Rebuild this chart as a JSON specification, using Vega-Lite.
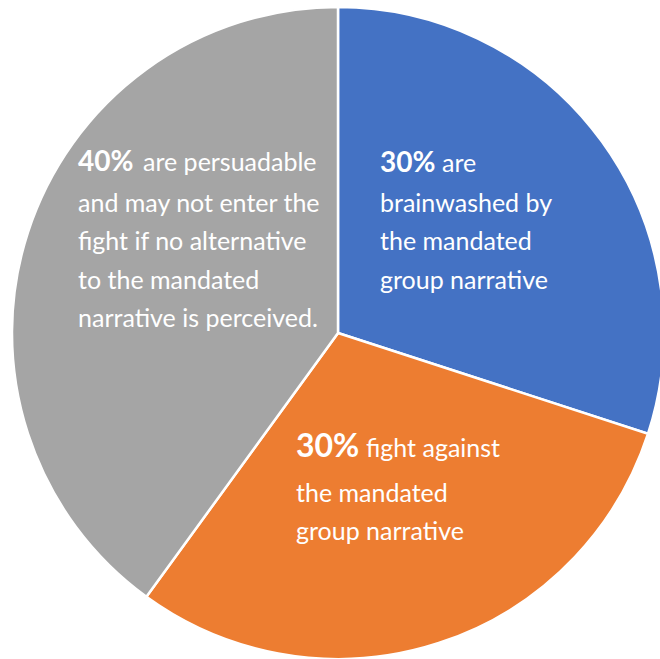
{
  "$schema": "https://vega.github.io/schema/vega-lite/v6.json",
  "width": 644,
  "height": 652,
  "padding": {"left": 16, "top": 7, "right": 0, "bottom": 0},
  "autosize": {"type": "none"},
  "background": "white",
  "config": {"view": {"stroke": null}},
  "datasets": {
    "slices": [
      {"slice": "brainwashed", "value": 30, "rank": 1},
      {"slice": "fight", "value": 30, "rank": 2},
      {"slice": "persuadable", "value": 40, "rank": 3}
    ],
    "labels": [
      {"slice": "brainwashed", "pct": "30%", "first": "are", "rest": ["brainwashed by", "the mandated", "group narrative"]},
      {"slice": "fight", "pct": "30%", "first": "fight against", "rest": ["the mandated", "group narrative"]},
      {"slice": "persuadable", "pct": "40%", "first": "are persuadable", "rest": ["and may not enter the", "fight if no alternative", "to the mandated", "narrative is perceived."]}
    ]
  },
  "layer": [
    {
      "data": {"name": "slices"},
      "mark": {"type": "arc", "outerRadius": 326, "stroke": "white", "strokeWidth": 2.5},
      "encoding": {
        "theta": {"field": "value", "type": "quantitative", "stack": true},
        "order": {"field": "rank", "type": "quantitative"},
        "color": {
          "field": "slice", "type": "nominal",
          "scale": {"domain": ["brainwashed", "fight", "persuadable"], "range": ["#4472C4", "#ED7D31", "#A5A5A5"]},
          "legend": null
        }
      }
    },
    {
      "data": {"name": "labels"},
      "transform": [{"filter": "datum.slice == 'brainwashed'"}],
      "mark": {"type": "text", "align": "left", "baseline": "alphabetic", "font": "Lato", "fontWeight": "bold", "fontSize": 28, "color": "white", "dx": 42, "dy": -161},
      "encoding": {"text": {"field": "pct"}}
    },
    {
      "data": {"name": "labels"},
      "transform": [{"filter": "datum.slice == 'brainwashed'"}],
      "mark": {"type": "text", "align": "left", "baseline": "alphabetic", "font": "Lato", "fontSize": 25, "color": "white", "dx": 104, "dy": -161},
      "encoding": {"text": {"field": "first"}}
    },
    {
      "data": {"name": "labels"},
      "transform": [{"filter": "datum.slice == 'brainwashed'"}],
      "mark": {"type": "text", "align": "left", "baseline": "alphabetic", "font": "Lato", "fontSize": 25, "color": "white", "dx": 42, "dy": -121, "lineHeight": 38.3},
      "encoding": {"text": {"field": "rest"}}
    },
    {
      "data": {"name": "labels"},
      "transform": [{"filter": "datum.slice == 'persuadable'"}],
      "mark": {"type": "text", "align": "left", "baseline": "alphabetic", "font": "Lato", "fontWeight": "bold", "fontSize": 28, "color": "white", "dx": -260, "dy": -162},
      "encoding": {"text": {"field": "pct"}}
    },
    {
      "data": {"name": "labels"},
      "transform": [{"filter": "datum.slice == 'persuadable'"}],
      "mark": {"type": "text", "align": "left", "baseline": "alphabetic", "font": "Lato", "fontSize": 25, "color": "white", "dx": -195, "dy": -162},
      "encoding": {"text": {"field": "first"}}
    },
    {
      "data": {"name": "labels"},
      "transform": [{"filter": "datum.slice == 'persuadable'"}],
      "mark": {"type": "text", "align": "left", "baseline": "alphabetic", "font": "Lato", "fontSize": 25, "color": "white", "dx": -260, "dy": -121, "lineHeight": 38.3},
      "encoding": {"text": {"field": "rest"}}
    },
    {
      "data": {"name": "labels"},
      "transform": [{"filter": "datum.slice == 'fight'"}],
      "mark": {"type": "text", "align": "left", "baseline": "alphabetic", "font": "Lato", "fontWeight": "bold", "fontSize": 32, "color": "white", "dx": -42, "dy": 124},
      "encoding": {"text": {"field": "pct"}}
    },
    {
      "data": {"name": "labels"},
      "transform": [{"filter": "datum.slice == 'fight'"}],
      "mark": {"type": "text", "align": "left", "baseline": "alphabetic", "font": "Lato", "fontSize": 25, "color": "white", "dx": 28, "dy": 124},
      "encoding": {"text": {"field": "first"}}
    },
    {
      "data": {"name": "labels"},
      "transform": [{"filter": "datum.slice == 'fight'"}],
      "mark": {"type": "text", "align": "left", "baseline": "alphabetic", "font": "Lato", "fontSize": 25, "color": "white", "dx": -42, "dy": 169, "lineHeight": 38.3},
      "encoding": {"text": {"field": "rest"}}
    }
  ]
}
